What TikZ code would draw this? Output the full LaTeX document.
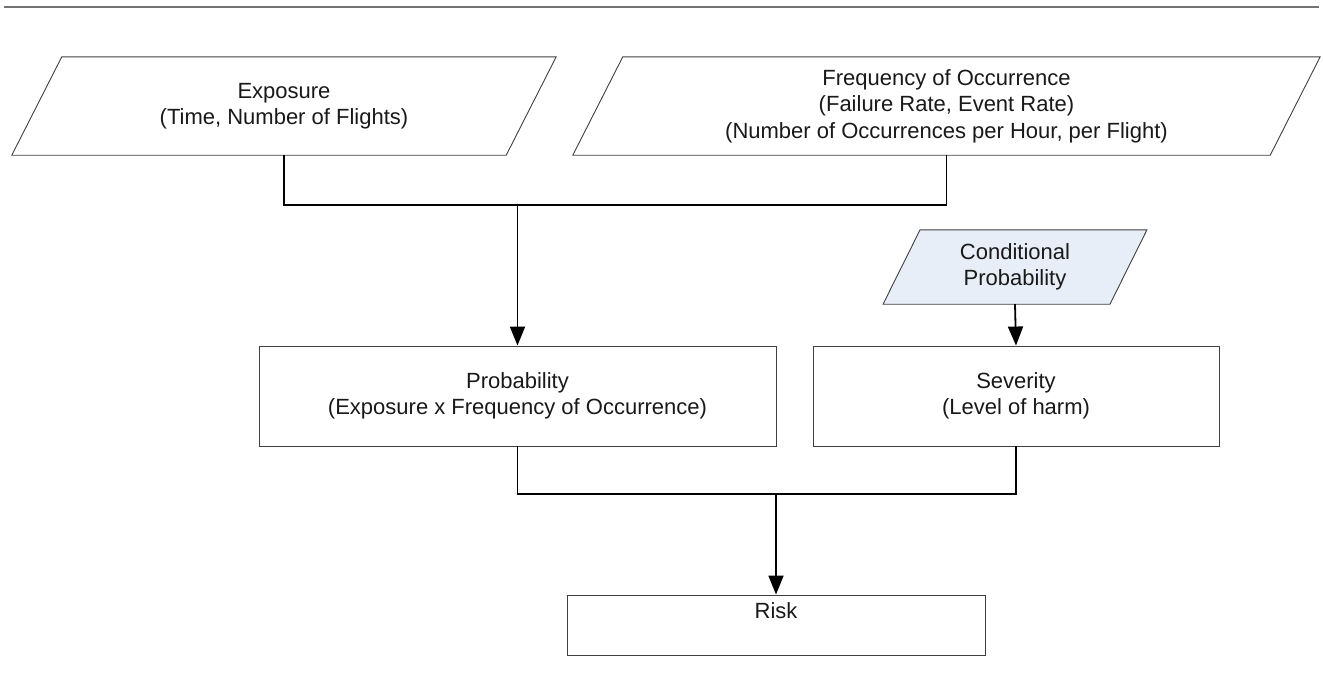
\documentclass[tikz,border=0pt]{standalone}
\usepackage{fontspec}
\setmainfont{Liberation Sans}
\usetikzlibrary{arrows.meta,calc,backgrounds}
\definecolor{condfill}{RGB}{231,238,247}
\begin{document}
\begin{tikzpicture}[x=1pt,y=-1pt,
  txt/.style={font=\fontsize{22}{26.5}\selectfont, text=black!90, align=center, inner sep=0pt},
  boxnode/.style={txt, draw=black!75, line width=0.9pt},
  paraline/.style={draw=black!75, line width=0.9pt},
  conn/.style={line width=1.8pt, black},
  arr/.style={conn, -{Triangle[width=15pt,length=19pt]}}]
\useasboundingbox (0,0) rectangle (1323,691);
\coordinate (tl) at (4,7);
\coordinate (tr) at (1319,7);
\draw[line width=1.5pt, black!55] (tl) -- (tr);

% parallelogram nodes (text holders, mid-height rectangles)
\node[txt, minimum width=494pt, minimum height=98pt] (expo) at (284,106)
  {Exposure\\(Time, Number of Flights)};
\node[txt, minimum width=697pt, minimum height=98pt] (freq) at (946.5,106)
  {Frequency of Occurrence\\(Failure Rate, Event Rate)\\(Number of Occurrences per Hour, per Flight)};
\node[txt, minimum width=226.5pt, minimum height=74pt] (cond) at (1015,267)
  {Conditional\\Probability};

% boxes
\node[boxnode, minimum width=517pt, minimum height=100pt] (prob) at (517.5,396)
  {Probability\\(Exposure x Frequency of Occurrence)};
\node[boxnode, minimum width=406pt, minimum height=100pt] (sev) at (1016,396)
  {Severity\\(Level of harm)};
\node[boxnode, minimum width=418pt, minimum height=60pt, text height=16pt, text depth=30pt] (risk) at (776,625)
  {Risk};

\begin{scope}[on background layer]
\foreach \n/\d in {expo/25,freq/25}{
  \draw[paraline, fill=white] ($(\n.north west)+(\d,0)$) -- ($(\n.north east)+(\d,0)$)
     -- ($(\n.south east)+(-\d,0)$) -- ($(\n.south west)+(-\d,0)$) -- cycle;
}
\draw[paraline, fill=condfill] ($(cond.north west)+(18.5,0)$) -- ($(cond.north east)+(18.5,0)$)
     -- ($(cond.south east)+(-18.5,0)$) -- ($(cond.south west)+(-18.5,0)$) -- cycle;
\end{scope}

% connectors
\coordinate (j1) at (517.5,205);
\coordinate (j2) at (776,494);
\draw[conn] (expo.south) |- (j1) -| (freq.south);
\draw[arr] (j1) -- (prob.north);
\draw[arr] (cond.south) -- (sev.north);
\draw[conn] (prob.south) |- (j2) -| (sev.south);
\draw[arr] (j2) -- (risk.north);
\end{tikzpicture}
\end{document}
